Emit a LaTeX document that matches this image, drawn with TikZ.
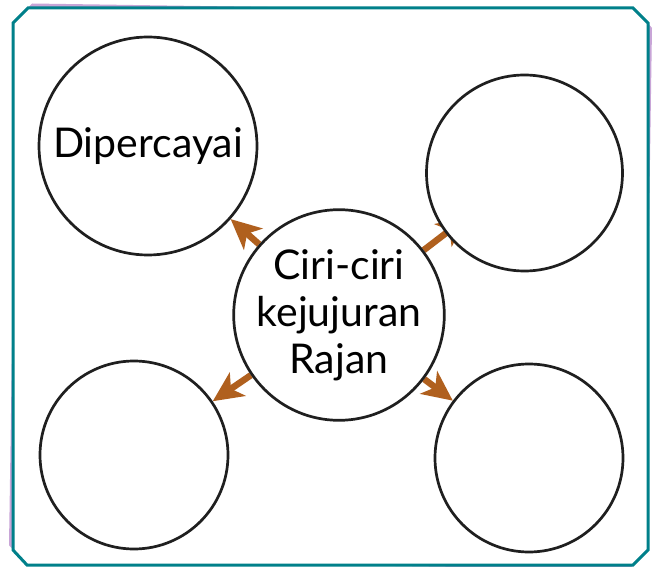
\documentclass[tikz,border=0pt]{standalone}
\usepackage{fontspec}
\setmainfont{Lato}
\usetikzlibrary{arrows.meta, positioning, backgrounds}
\definecolor{FrameTeal}{RGB}{0,128,138}
\definecolor{ShadowLilac}{RGB}{200,165,215}
\definecolor{ArrowBrown}{RGB}{176,96,30}
\tikzset{
  bubble/.style={circle, draw=black!88, line width=2.7pt, fill=white,
    inner sep=0pt, align=center, font=\fontsize{41}{47}\selectfont},
  pointer/.style={ArrowBrown, line width=6.5pt,
    -{Stealth[length=30pt,width=28pt,inset=8pt]}}
}
\begin{document}
\begin{tikzpicture}[x=1pt,y=-1pt]
  \useasboundingbox (0,0) rectangle (659,567);
  % Circles
  \node[bubble, minimum size=204pt] (core) at (339,315) {Ciri-ciri\\kejujuran\\Rajan};
  \node[bubble, minimum size=218pt] (trust) at (148,146) {Dipercayai};
  \node[bubble, minimum size=196pt] (upright) at (524.5,173) {};
  \node[bubble, minimum size=188pt] (lowleft) at (134,455) {};
  \node[bubble, minimum size=188pt] (lowright) at (529,458) {};
  \begin{scope}[on background layer]
    % Frame
    \fill[ShadowLilac] (17,18.2) -- (32.2,3.5) -- (637.2,12.5) -- (652,27.8)
      -- (644,554.8) -- (628.8,569.5) -- (22.8,560.4) -- (9,545.2) -- cycle;
    \draw[FrameTeal, line width=3pt, fill=white] (13,23) -- (28,8) -- (633,8)
      -- (648,23) -- (648,550) -- (633,565) -- (27,565) -- (13,550) -- cycle;
    % Arrows
    \draw[pointer] (core) -- (trust);
    \draw[pointer, shorten >=-27pt] (core) -- (upright);
    \draw[pointer] (core) -- (lowleft);
    \draw[pointer] (core) -- (lowright);
  \end{scope}
\end{tikzpicture}
\end{document}
